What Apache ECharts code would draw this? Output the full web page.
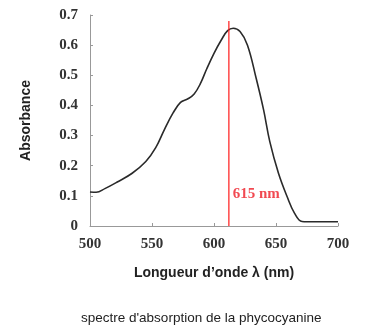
<!DOCTYPE html>
<html><head><meta charset="utf-8">
<script src="https://cdn.jsdelivr.net/npm/echarts@6/dist/echarts.min.js"></script>
<style>html,body{margin:0;padding:0;background:#fff}#c{width:366px;height:326px}</style>
</head><body><div id="c"></div>
<script>
const wavelengths = [500, 505, 512, 522, 534, 545, 553, 560, 567, 573, 579, 584, 589, 594, 600, 606, 611, 615.5, 621, 627, 634, 640, 645, 652, 659, 665, 671, 680, 690, 700];
const absorbance = [0.113, 0.112, 0.124, 0.146, 0.175, 0.214, 0.26, 0.32, 0.375, 0.41, 0.422, 0.438, 0.472, 0.52, 0.573, 0.618, 0.648, 0.656, 0.645, 0.6, 0.49, 0.385, 0.28, 0.175, 0.097, 0.042, 0.015, 0.014, 0.014, 0.014];
const peakLine = 612;
const peakLineTop = 0.68;
const peakLabel = '615 nm';
const xTicks = [500, 550, 600, 650, 700];
const yTicks = [0, 0.1, 0.2, 0.3, 0.4, 0.5, 0.6, 0.7];

const chart = echarts.init(document.getElementById('c'));
const serif = '"Liberation Serif","DejaVu Serif",serif';
const sans = '"Liberation Sans",Arial,sans-serif';
chart.setOption({
  animation: false,
  title: {
    text: "spectre d'absorption de la phycocyanine",
    left: 76, top: 306,
    textStyle: {fontFamily: sans, fontSize: 13.5, fontWeight: 'normal', color: '#222'}
  },
  grid: {left: 90, right: 28, top: 15, bottom: 100, containLabel: false},
  xAxis: {
    type: 'value', min: 500, max: 700, interval: 50,
    name: "Longueur d\u2019onde \u03bb (nm)", nameLocation: 'middle', nameGap: 40,
    nameTextStyle: {fontFamily: sans, fontSize: 14, fontWeight: 'bold', color: '#222'},
    axisLine: {lineStyle: {color: '#999', width: 1}},
    axisTick: {inside: true, length: 3, lineStyle: {color: '#999'}},
    axisLabel: {fontFamily: serif, fontSize: 15, fontWeight: 'bold', color: '#333', margin: 11,
      formatter: v => xTicks.includes(v) ? String(v) : ''},
    splitLine: {show: false}
  },
  yAxis: {
    type: 'value', min: 0, max: 0.7, interval: 0.1,
    name: 'Absorbance', nameLocation: 'middle', nameGap: 57, nameRotate: 90,
    nameTextStyle: {fontFamily: sans, fontSize: 14, fontWeight: 'bold', color: '#222'},
    axisLine: {show: true, lineStyle: {color: '#999', width: 1}},
    axisTick: {show: true, inside: true, length: 3, lineStyle: {color: '#999'}},
    axisLabel: {fontFamily: serif, fontSize: 15, fontWeight: 'bold', color: '#333', margin: 12,
      formatter: v => { const t = yTicks.find(y => Math.abs(y - v) < 1e-6); return t === undefined ? '' : (t === 0 ? '0' : t.toFixed(1)); }},
    splitLine: {show: false}
  },
  series: [
    {
      type: 'line', smooth: 0.4, symbol: 'none',
      data: wavelengths.map((w, i) => [w, absorbance[i]]),
      lineStyle: {color: '#2a2a2a', width: 1.6}
    },
    {
      type: 'line', symbol: 'none', silent: true,
      data: [[peakLine, 0], [peakLine, peakLineTop]],
      lineStyle: {color: '#ff1a1a', width: 1.2}
    },
    {
      type: 'scatter', symbolSize: 0, silent: true,
      data: [[peakLine + 1.5, 0.106]],
      label: {show: true, position: 'right', distance: 2, formatter: peakLabel,
        fontFamily: serif, fontSize: 15, fontWeight: 'bold', color: '#ee1c25'}
    }
  ]
});
</script></body></html>
